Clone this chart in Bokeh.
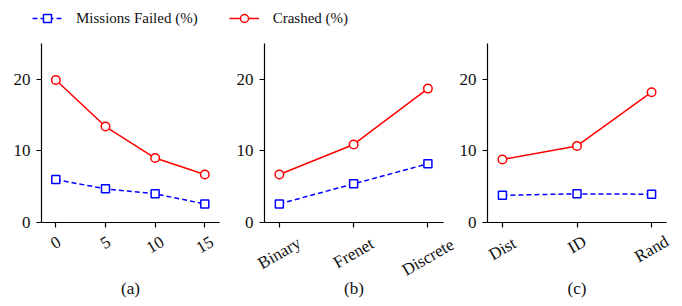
from bokeh.plotting import figure
from bokeh.layouts import column, row
from bokeh.models import Range1d, FixedTicker, Legend, LegendItem
from bokeh.core.properties import value
from bokeh.embed import file_html
from bokeh.resources import INLINE

# ---- data ----
noise_x = [0, 5, 10, 15]
noise_labels = ["0", "5", "10", "15"]
noise_failed = [6.0, 4.7, 4.0, 2.6]
noise_crashed = [19.9, 13.4, 9.0, 6.7]

rep_cats = ["Binary", "Frenet", "Discrete"]
rep_failed = [2.6, 5.4, 8.2]
rep_crashed = [6.7, 10.9, 18.7]

sel_cats = ["Dist", "ID", "Rand"]
sel_failed = [3.8, 4.0, 3.95]
sel_crashed = [8.8, 10.7, 18.2]

y_ticks = [0, 10, 20]
series_labels = ["Missions Failed (%)", "Crashed (%)"]
panel_labels = ["(a)", "(b)", "(c)"]

FONT = "Liberation Serif"
BLUE = "#0000ff"
RED = "#ff0000"
DASH = "5 3"
TXT = "#111111"
NAN = float("nan")

TOP = 5          # border above the frame
FH = 179         # frame height
BOT = 10         # border below the frame in the plot figure
STRIP_H = 74     # height of the tick-label strip


def panel(xs, tick_text, failed, crashed, xs_range, label, fw, left, right,
          s_left, s_right):
    s, e = xs_range
    p = figure(width=left + fw + right, height=TOP + FH + BOT,
               x_range=Range1d(s, e), y_range=Range1d(0, 25),
               output_backend="svg", toolbar_location=None,
               min_border_left=left, min_border_right=right,
               min_border_top=TOP, min_border_bottom=BOT)
    p.outline_line_color = None
    p.grid.visible = False
    p.line(xs, failed, line_color=BLUE, line_width=1.5, line_dash=DASH)
    p.scatter(xs, failed, marker="square", size=8, line_color=BLUE,
              fill_color="white", line_width=1.5)
    p.line(xs, crashed, line_color=RED, line_width=1.5)
    p.scatter(xs, crashed, marker="circle", size=8.5, line_color=RED,
              fill_color="white", line_width=1.5)
    for ax in (p.xaxis[0], p.yaxis[0]):
        ax.axis_line_color = "black"
        ax.axis_line_width = 1.2
        ax.major_tick_line_color = "black"
        ax.major_tick_line_width = 1.2
        ax.major_tick_out = 5
        ax.major_tick_in = 0
        ax.minor_tick_line_color = None
        ax.major_label_text_font = FONT
        ax.major_label_text_font_size = "17px"
        ax.major_label_text_color = TXT
        ax.major_label_standoff = 6
    p.yaxis.ticker = FixedTicker(ticks=y_ticks)
    p.xaxis.ticker = FixedTicker(ticks=list(xs))
    # x tick texts are drawn rotated and centred in the strip below
    p.xaxis.major_label_text_color = None
    p.xaxis.major_label_text_font_size = "1px"
    p.xaxis.major_label_standoff = 0

    # strip below with the same x mapping (wider frame so nothing is clipped)
    scale = fw / (e - s)
    st = figure(width=s_left + fw + s_right, height=STRIP_H,
                x_range=Range1d(s - s_left / scale, e + s_right / scale),
                y_range=Range1d(-STRIP_H, 0), output_backend="svg",
                toolbar_location=None, min_border=0,
                x_axis_type=None, y_axis_type=None)
    st.outline_line_color = None
    st.grid.visible = False
    ys = [-(18 + 2.1 * len(t) - BOT) for t in tick_text]
    st.text(list(xs), ys, text=list(tick_text), angle=30, angle_units="deg",
            text_align="center", text_baseline="middle",
            text_font=value(FONT), text_font_size="17px", text_color=TXT)
    st.text([(s + e) / 2], [-56], text=[label], text_align="center",
            text_baseline="middle", text_font=value(FONT),
            text_font_size="17px", text_color=TXT)
    return p, st


pa, sa = panel(noise_x, noise_labels, noise_failed, noise_crashed,
               (-1.44, 16.48), panel_labels[0], 178, 41, 12, 41, 12)

rep_x = list(range(len(rep_cats)))
pb, sb = panel(rep_x, rep_cats, rep_failed, rep_crashed, (-0.2, 2.21),
               panel_labels[1], 179, 33, 11, 33, 18)

sel_x = list(range(len(sel_cats)))
pc, sc = panel(sel_x, sel_cats, sel_failed, sel_crashed, (-0.2, 2.2),
               panel_labels[2], 179, 33, 16, 26, 16)

# ---- legend strip ----
lg = figure(width=682, height=38, x_range=Range1d(0, 1), y_range=Range1d(0, 1),
            output_backend="svg", toolbar_location=None, min_border=0,
            x_axis_type=None, y_axis_type=None)
lg.outline_line_color = None
lg.grid.visible = False
r1 = lg.line([NAN], [NAN], line_color=BLUE, line_width=1.5, line_dash=DASH)
r2 = lg.scatter([NAN], [NAN], marker="square", size=8, line_color=BLUE,
                fill_color="white", line_width=1.5)
r3 = lg.line([NAN], [NAN], line_color=RED, line_width=1.5)
r4 = lg.scatter([NAN], [NAN], marker="circle", size=8.5, line_color=RED,
                fill_color="white", line_width=1.5)
legend = Legend(items=[LegendItem(label=series_labels[0], renderers=[r1, r2]),
                       LegendItem(label=series_labels[1], renderers=[r3, r4])],
                orientation="horizontal", location=(32, 10),
                glyph_width=30, glyph_height=20, label_standoff=14,
                spacing=31, padding=0, margin=0,
                border_line_color=None, background_fill_alpha=0,
                label_text_font=FONT, label_text_font_size="15px",
                label_text_color=TXT, label_height=20)
lg.add_layout(legend, "center")

layout = column(lg, row(pa, pb, pc), row(sa, sb, sc))

open("out.html", "w").write(file_html(layout, INLINE))
